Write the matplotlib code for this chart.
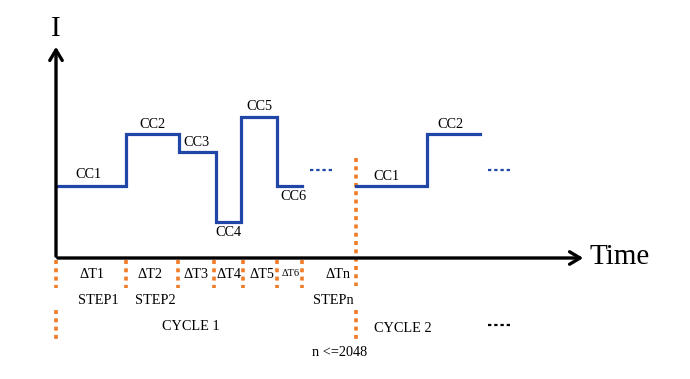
import matplotlib.pyplot as plt

# step schedule in figure-pixel units (x = time edges, y = current level, smaller y = higher)
cycle1_edges = [56, 126, 179, 216, 241, 277, 302]
cycle1_levels = [186, 134, 152, 222, 117, 186]
cycle1_labels = ["CC1", "CC2", "CC3", "CC4", "CC5", "CC6"]
cycle1_label_pos = [(88, 175), (152, 124), (196, 142), (228, 232), (259, 107), (293, 196)]

cycle2_edges = [356, 427, 480]
cycle2_levels = [186, 134]
cycle2_labels = ["CC1", "CC2"]
cycle2_label_pos = [(386, 176), (450, 124)]

step_marks = [56, 126, 178, 214, 243, 277, 302]
dt_labels = ["ΔT1", "ΔT2", "ΔT3", "ΔT4", "ΔT5", "ΔT6", "ΔTn"]
dt_pos = [92, 150, 196, 229, 262, 291, 338]

BLUE = "#2046a8"
ORANGE = "#f07c28"
SERIF = "Liberation Serif"
FS = 10.3

fig = plt.figure(figsize=(6.9, 3.79), dpi=100)
ax = fig.add_axes([0, 0, 1, 1])
ax.set_xlim(0, 690)
ax.set_ylim(379, 0)
ax.axis("off")


def draw_steps(edges, levels):
    xs, ys = [], []
    for i, lv in enumerate(levels):
        xs += [edges[i], edges[i + 1]]
        ys += [lv, lv]
    ax.plot(xs, ys, color=BLUE, lw=2.3, solid_joinstyle="miter", zorder=3)


draw_steps(cycle1_edges, cycle1_levels)
draw_steps(cycle2_edges, cycle2_levels)

for lab, (x, y) in zip(cycle1_labels + cycle2_labels, cycle1_label_pos + cycle2_label_pos):
    ax.text(x, y, lab, family=SERIF, fontsize=FS, ha="center", va="center")

# blue continuation dots
for x0, x1 in [(310, 332), (488, 512)]:
    ax.plot([x0, x1], [170, 170], color=BLUE, lw=1.6, ls=(0, (1.5, 1.3)))

# axes with open arrowheads
arrow = dict(arrowstyle="->,head_length=0.75,head_width=0.45", lw=2.4, color="black")
ax.annotate("", xy=(56, 44), xytext=(56, 259), arrowprops=arrow)
ax.annotate("", xy=(586, 258), xytext=(55, 258), arrowprops=arrow)
ax.text(56, 29, "I", family=SERIF, fontsize=21, ha="center", va="center")
ax.text(589, 257, "Time", family=SERIF, fontsize=21, ha="left", va="center")

# orange step markers
dot = dict(color=ORANGE, lw=2.6, ls=(0, (1.1, 1.2)))
for x in step_marks:
    ax.plot([x, x], [260, 288], **dot)
ax.plot([56, 56], [310, 340], **dot)
ax.plot([356, 356], [158, 286], **dot)
ax.plot([356, 356], [310, 340], **dot)

for lab, x in zip(dt_labels, dt_pos):
    small = lab == "ΔT6"
    ax.text(x, 273 if small else 275, lab, family=SERIF, fontsize=7.5 if small else FS,
            ha="center", va="center")

ax.text(98, 301, "STEP1", family=SERIF, fontsize=FS, ha="center", va="center")
ax.text(155, 301, "STEP2", family=SERIF, fontsize=FS, ha="center", va="center")
ax.text(333, 301, "STEPn", family=SERIF, fontsize=FS, ha="center", va="center")
ax.text(191, 327, "CYCLE 1", family=SERIF, fontsize=FS, ha="center", va="center")
ax.text(403, 328, "CYCLE 2", family=SERIF, fontsize=FS, ha="center", va="center")
ax.text(340, 353, "n <=2048", family=SERIF, fontsize=FS, ha="center", va="center")
ax.plot([488, 512], [325, 325], color="black", lw=1.6, ls=(0, (1.5, 1.3)))

fig.savefig("out.png", dpi=100, facecolor="white")
